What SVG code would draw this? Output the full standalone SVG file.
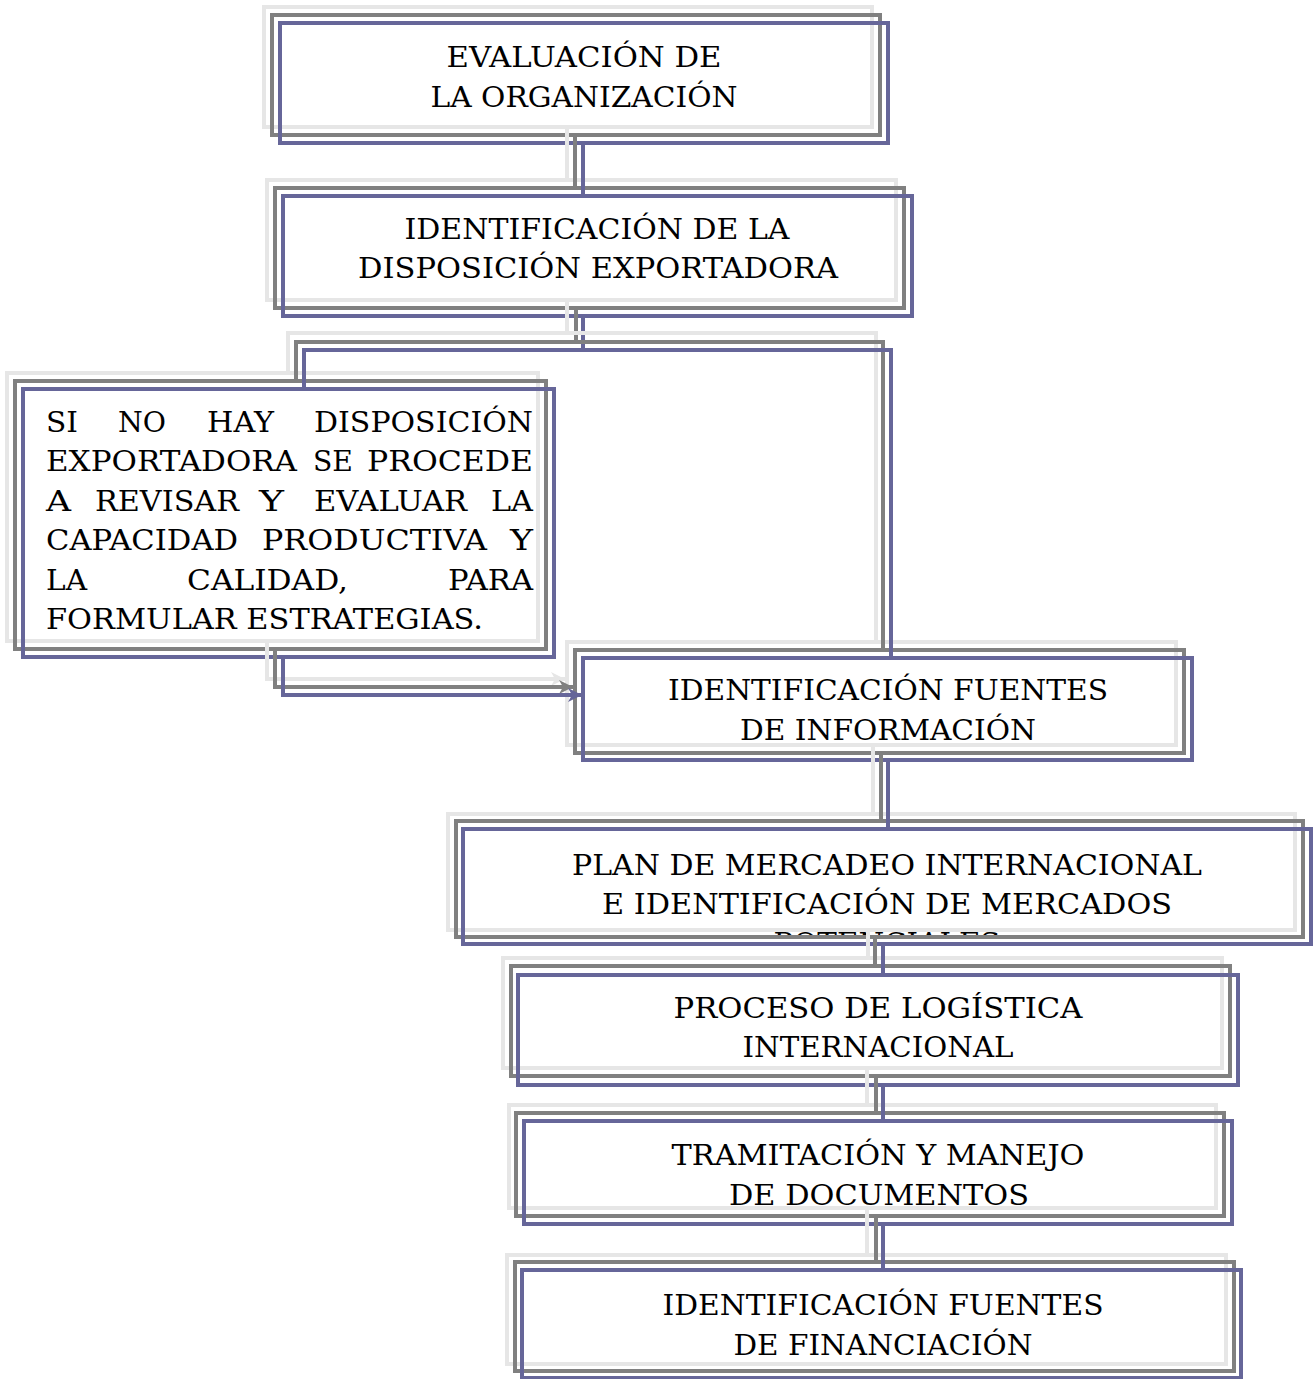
<svg xmlns="http://www.w3.org/2000/svg" width="1316" height="1379" viewBox="0 0 1316 1379">
<style>
.l{fill:none;stroke:#e6e6e6;stroke-width:4}
.d{fill:none;stroke:#808080;stroke-width:4}
.b{fill:none;stroke:#666699;stroke-width:4}
.cl{fill:none;stroke:#e6e6e6;stroke-width:4}
.cd{fill:none;stroke:#808080;stroke-width:4}
.cb{fill:none;stroke:#666699;stroke-width:4}
text{font-family:"DejaVu Serif","Liberation Serif",serif;font-size:27px;fill:#000}
.c{text-anchor:middle}
</style>
<defs>
<marker id="al" markerUnits="userSpaceOnUse" markerWidth="16" markerHeight="14" refX="14" refY="7" orient="auto"><path d="M0,0 L14,7 L0,14 L4,7 z" fill="#e6e6e6"/></marker>
<marker id="ad" markerUnits="userSpaceOnUse" markerWidth="16" markerHeight="14" refX="14" refY="7" orient="auto"><path d="M0,0 L14,7 L0,14 L4,7 z" fill="#808080"/></marker>
<marker id="ab" markerUnits="userSpaceOnUse" markerWidth="16" markerHeight="14" refX="14" refY="7" orient="auto"><path d="M0,0 L14,7 L0,14 L4,7 z" fill="#666699"/></marker>
<clipPath id="clip5"><rect x="440" y="800" width="880" height="135"/></clipPath>
</defs>

<g id="n1">
<rect class="l" x="264" y="7" width="608" height="120"/>
<rect class="d" x="272" y="15" width="608" height="120"/>
<rect class="b" x="280" y="23" width="608" height="120"/>
<text class="c" x="584" y="67" textLength="275" lengthAdjust="spacingAndGlyphs">EVALUACIÓN DE</text>
<text class="c" x="584" y="107" textLength="307" lengthAdjust="spacingAndGlyphs">LA ORGANIZACIÓN</text>
</g>

<g id="n2">
<rect class="l" x="267" y="180" width="629" height="120"/>
<rect class="d" x="275" y="188" width="629" height="120"/>
<rect class="b" x="283" y="196" width="629" height="120"/>
<text class="c" x="597" y="239" textLength="385" lengthAdjust="spacingAndGlyphs">IDENTIFICACIÓN DE LA</text>
<text class="c" x="598" y="278" textLength="480" lengthAdjust="spacingAndGlyphs">DISPOSICIÓN EXPORTADORA</text>
</g>

<g id="n3">
<rect class="l" x="7" y="373" width="531" height="268"/>
<rect class="d" x="15" y="381" width="531" height="268"/>
<rect class="b" x="23" y="389" width="531" height="268"/>
<text y="432"><tspan x="46" textLength="32" lengthAdjust="spacingAndGlyphs">SI</tspan><tspan x="118" textLength="48" lengthAdjust="spacingAndGlyphs">NO</tspan><tspan x="207" textLength="67" lengthAdjust="spacingAndGlyphs">HAY</tspan><tspan x="314" textLength="219" lengthAdjust="spacingAndGlyphs">DISPOSICIÓN</tspan></text>
<text y="471"><tspan x="46" textLength="251" lengthAdjust="spacingAndGlyphs">EXPORTADORA</tspan><tspan x="313" textLength="40" lengthAdjust="spacingAndGlyphs">SE</tspan><tspan x="367" textLength="166" lengthAdjust="spacingAndGlyphs">PROCEDE</tspan></text>
<text y="511"><tspan x="46" textLength="25" lengthAdjust="spacingAndGlyphs">A</tspan><tspan x="95" textLength="144" lengthAdjust="spacingAndGlyphs">REVISAR</tspan><tspan x="259" textLength="25" lengthAdjust="spacingAndGlyphs">Y</tspan><tspan x="314" textLength="153" lengthAdjust="spacingAndGlyphs">EVALUAR</tspan><tspan x="491" textLength="42" lengthAdjust="spacingAndGlyphs">LA</tspan></text>
<text y="550"><tspan x="46" textLength="192" lengthAdjust="spacingAndGlyphs">CAPACIDAD</tspan><tspan x="262" textLength="225" lengthAdjust="spacingAndGlyphs">PRODUCTIVA</tspan><tspan x="510" textLength="23" lengthAdjust="spacingAndGlyphs">Y</tspan></text>
<text y="590"><tspan x="46" textLength="41" lengthAdjust="spacingAndGlyphs">LA</tspan><tspan x="187" textLength="161" lengthAdjust="spacingAndGlyphs">CALIDAD,</tspan><tspan x="448" textLength="85" lengthAdjust="spacingAndGlyphs">PARA</tspan></text>
<text x="46" y="629" textLength="437" lengthAdjust="spacingAndGlyphs">FORMULAR ESTRATEGIAS.</text>
</g>

<g id="n4">
<rect class="l" x="567" y="642" width="609" height="103"/>
<rect class="d" x="575" y="650" width="609" height="103"/>
<rect class="b" x="583" y="658" width="609" height="102"/>
<text class="c" x="888" y="700" textLength="440" lengthAdjust="spacingAndGlyphs">IDENTIFICACIÓN FUENTES</text>
<text class="c" x="888" y="740" textLength="296" lengthAdjust="spacingAndGlyphs">DE INFORMACIÓN</text>
</g>

<g id="n5">
<rect class="l" x="448" y="814" width="847" height="116"/>
<rect class="d" x="456" y="821" width="847" height="116"/>
<rect class="b" x="463" y="829" width="848" height="115"/>
<text class="c" x="887" y="875" textLength="630" lengthAdjust="spacingAndGlyphs">PLAN DE MERCADEO INTERNACIONAL</text>
<text class="c" x="887" y="914" textLength="570" lengthAdjust="spacingAndGlyphs">E IDENTIFICACIÓN DE MERCADOS</text>
<text class="c" x="887" y="953" textLength="227" lengthAdjust="spacingAndGlyphs" clip-path="url(#clip5)">POTENCIALES</text>
</g>

<g id="n6">
<rect class="l" x="503" y="958" width="719" height="110"/>
<rect class="d" x="511" y="966" width="719" height="110"/>
<rect class="b" x="518" y="975" width="720" height="110"/>
<text class="c" x="878" y="1018" textLength="409" lengthAdjust="spacingAndGlyphs">PROCESO DE LOGÍSTICA</text>
<text class="c" x="878" y="1057" textLength="271" lengthAdjust="spacingAndGlyphs">INTERNACIONAL</text>
</g>

<g id="n7">
<rect class="l" x="509" y="1105" width="707" height="103"/>
<rect class="d" x="516" y="1113" width="708" height="103"/>
<rect class="b" x="524" y="1121" width="708" height="103"/>
<text class="c" x="878" y="1165" textLength="413" lengthAdjust="spacingAndGlyphs">TRAMITACIÓN Y MANEJO</text>
<text class="c" x="879" y="1205" textLength="300" lengthAdjust="spacingAndGlyphs">DE DOCUMENTOS</text>
</g>

<g id="n8">
<rect class="l" x="507" y="1255" width="719" height="109"/>
<rect class="d" x="515" y="1262" width="719" height="109"/>
<rect class="b" x="522" y="1270" width="719" height="108"/>
<text class="c" x="883" y="1315" textLength="441" lengthAdjust="spacingAndGlyphs">IDENTIFICACIÓN FUENTES</text>
<text class="c" x="883" y="1355" textLength="299" lengthAdjust="spacingAndGlyphs">DE FINANCIACIÓN</text>
</g>

<g id="connectors">
<path class="cl" d="M567,127 V180"/>
<path class="cd" d="M575,135 V188"/>
<path class="cb" d="M583,143 V196"/>

<path class="cl" d="M567,300 V333"/>
<path class="cd" d="M576,308 V342"/>
<path class="cb" d="M583,316 V350"/>

<path class="cl" d="M288,373 V333 H876 V642"/>
<path class="cd" d="M296,381 V342 H883 V650"/>
<path class="cb" d="M304,389 V350 H891 V658"/>

<path class="cl" d="M267,641 V679 H565" marker-end="url(#al)"/>
<path class="cd" d="M275,649 V687 H573" marker-end="url(#ad)"/>
<path class="cb" d="M283,657 V695 H582" marker-end="url(#ab)"/>

<path class="cl" d="M873,745 V814"/>
<path class="cd" d="M881,753 V821"/>
<path class="cb" d="M888,760 V829"/>

<path class="cl" d="M868,930 V958"/>
<path class="cd" d="M875,937 V966"/>
<path class="cb" d="M883,944 V975"/>

<path class="cl" d="M867,1068 V1105"/>
<path class="cd" d="M876,1076 V1113"/>
<path class="cb" d="M883,1085 V1121"/>

<path class="cl" d="M867,1208 V1255"/>
<path class="cd" d="M876,1216 V1262"/>
<path class="cb" d="M883,1224 V1270"/>
</g>
</svg>
